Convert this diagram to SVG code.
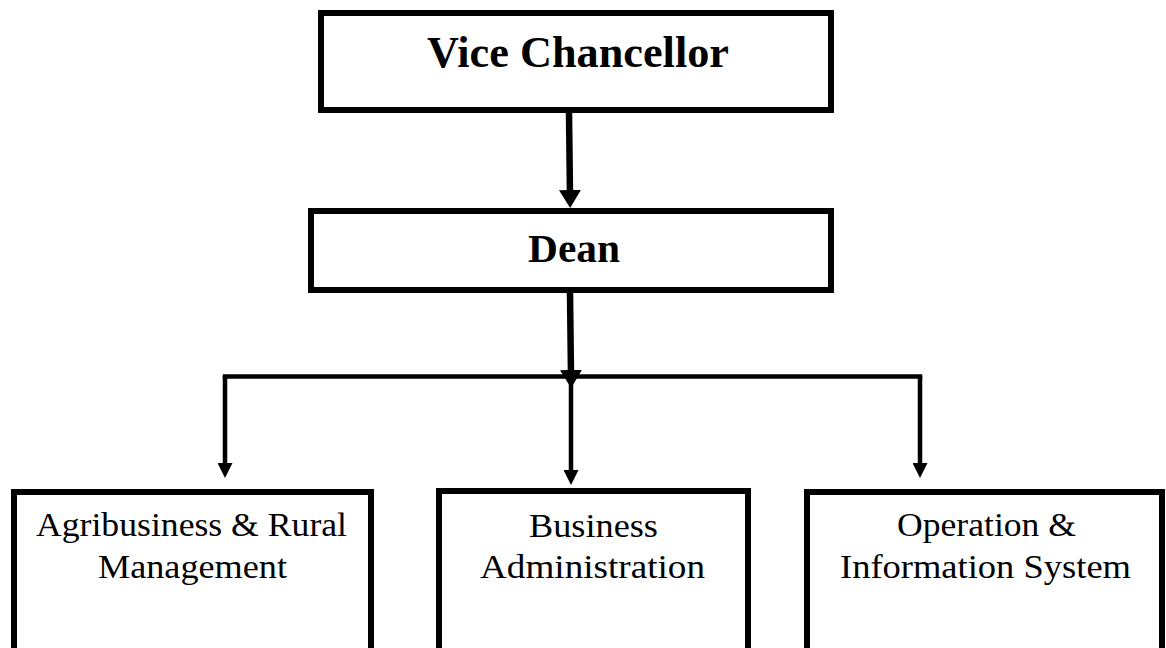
<svg xmlns="http://www.w3.org/2000/svg" width="1166" height="648" viewBox="0 0 1166 648">
  <style>
    .box { fill: #ffffff; stroke: #000000; stroke-width: 6; }
    .title { font-family: "Liberation Serif", "DejaVu Serif", serif; font-weight: bold; fill: #000000; text-anchor: middle; }
    .label { font-family: "Liberation Serif", "DejaVu Serif", serif; font-size: 34px; fill: #000000; text-anchor: middle; }
    .thick { stroke: #000000; stroke-width: 6.5; fill: none; }
    .thin { stroke: #000000; stroke-width: 4.5; fill: none; }
  </style>
  <defs>
    <marker id="ahBig" markerUnits="userSpaceOnUse" markerWidth="20" markerHeight="22" refX="6" refY="11" orient="auto">
      <path d="M0,0 L18,11 L0,22 z" fill="#000000"/>
    </marker>
    <marker id="ahSmall" markerUnits="userSpaceOnUse" markerWidth="16" markerHeight="15" refX="5" refY="7.5" orient="auto">
      <path d="M0,0 L15,7.5 L0,15 z" fill="#000000"/>
    </marker>
  </defs>
  <rect width="1166" height="648" fill="#ffffff"/>

  <g id="connectors">
    <line class="thick" x1="569" y1="113" x2="570" y2="196" marker-end="url(#ahBig)"/>
    <line class="thin" x1="225" y1="376.5" x2="920" y2="376.5" stroke-linecap="square"/>
    <line class="thick" x1="570" y1="293" x2="571" y2="376" marker-end="url(#ahBig)"/>
    <line class="thin" x1="225" y1="376" x2="225" y2="468" marker-end="url(#ahSmall)"/>
    <line class="thin" x1="571" y1="376" x2="571" y2="475" marker-end="url(#ahSmall)"/>
    <line class="thin" x1="920" y1="376" x2="920" y2="468" marker-end="url(#ahSmall)"/>
  </g>

  <g id="vice-chancellor">
    <rect class="box" x="321" y="13" width="510" height="97"/>
    <text class="title" x="578" y="67" font-size="44" textLength="302" lengthAdjust="spacingAndGlyphs">Vice Chancellor</text>
  </g>

  <g id="dean">
    <rect class="box" x="311" y="211" width="520" height="79"/>
    <text class="title" x="574" y="262" font-size="41" textLength="92" lengthAdjust="spacingAndGlyphs">Dean</text>
  </g>

  <g id="agribusiness">
    <rect class="box" x="14" y="492" width="357" height="175"/>
    <text class="label" x="191.5" y="536" textLength="311" lengthAdjust="spacingAndGlyphs">Agribusiness &amp; Rural</text>
    <text class="label" x="192.5" y="578" textLength="189" lengthAdjust="spacingAndGlyphs">Management</text>
  </g>

  <g id="business-administration">
    <rect class="box" x="439" y="491" width="309" height="175"/>
    <text class="label" x="593.5" y="537" textLength="129" lengthAdjust="spacingAndGlyphs">Business</text>
    <text class="label" x="592.5" y="578" textLength="225" lengthAdjust="spacingAndGlyphs">Administration</text>
  </g>

  <g id="operation-information">
    <rect class="box" x="807" y="492" width="355" height="175"/>
    <text class="label" x="986.5" y="536" textLength="179" lengthAdjust="spacingAndGlyphs">Operation &amp;</text>
    <text class="label" x="985.5" y="578" textLength="291" lengthAdjust="spacingAndGlyphs">Information System</text>
  </g>
</svg>
